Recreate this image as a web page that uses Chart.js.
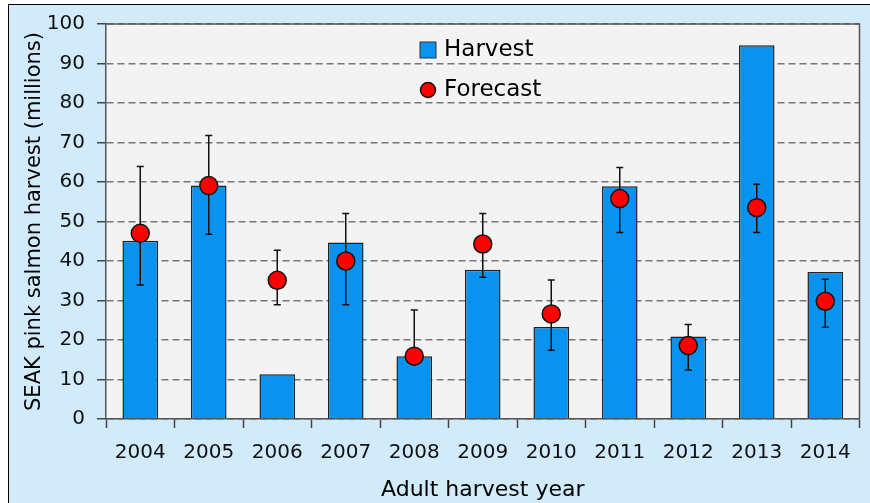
<!DOCTYPE html>
<html>
<head>
<meta charset="utf-8">
<title>SEAK pink salmon harvest</title>
<script src="https://cdn.jsdelivr.net/npm/chart.js"></script>
<style>
    html, body { margin: 0; padding: 0; background: #fff; }
    #wrap { position: relative; width: 870px; height: 503px; overflow: hidden; }
    #frame {
        position: absolute; left: 8px; top: 4px; right: -4px; bottom: -4px;
        border-top: 1.5px solid #000; border-left: 1.5px solid #000;
        background: #d2ebfb;
    }
    #myChart { position: absolute; left: 0; top: 0; }
</style>
</head>
<body>
<div id="wrap">
    <div id="frame"></div>
    <canvas id="myChart" width="870" height="503"></canvas>
</div>
<script>
// values (millions of fish)
const years = ['2004', '2005', '2006', '2007', '2008', '2009', '2010', '2011', '2012', '2013', '2014'];
const harvest = [45.1, 59.1, 11.3, 44.7, 15.9, 37.8, 23.3, 58.9, 20.9, 94.6, 37.2];
const forecast = [47.0, 59.1, 35.1, 40.0, 15.9, 44.3, 26.6, 55.8, 18.6, 53.5, 29.8];
const forecastHigh = [63.9, 71.8, 42.7, 52.0, 27.6, 52.0, 35.2, 63.7, 23.9, 59.4, 35.4];
const forecastLow = [33.9, 46.8, 28.9, 28.9, 14.5, 35.9, 17.4, 47.2, 12.4, 47.2, 23.2];
const yTicks = [0, 10, 20, 30, 40, 50, 60, 70, 80, 90, 100];

const FONT = "'Comic Sans MS', 'DejaVu Sans', sans-serif";

// grey plot background
const plotBackground = {
    id: 'plotBackground',
    beforeDraw(chart) {
        const { ctx, chartArea: a } = chart;
        ctx.save();
        ctx.fillStyle = '#f3f3f3';
        ctx.fillRect(a.left, a.top, a.right - a.left, a.bottom - a.top);
        ctx.restore();
    }
};

// whiskers on the forecast, drawn right after the bars so the dots sit on top
const errorBars = {
    id: 'errorBars',
    afterDatasetDraw(chart, args) {
        if (args.index !== 0) return;
        const { ctx, scales: { x, y } } = chart;
        ctx.save();
        ctx.strokeStyle = '#111';
        ctx.lineWidth = 1.5;
        years.forEach((yr, i) => {
            const px = x.getPixelForValue(i);
            const top = y.getPixelForValue(forecastHigh[i]);
            const bot = y.getPixelForValue(forecastLow[i]);
            ctx.beginPath();
            ctx.moveTo(px, top);
            ctx.lineTo(px, bot);
            ctx.moveTo(px - 3.5, top);
            ctx.lineTo(px + 3.5, top);
            ctx.moveTo(px - 3.5, bot);
            ctx.lineTo(px + 3.5, bot);
            ctx.stroke();
        });
        ctx.restore();
    },
    afterDatasetsDraw(chart) {
        // solid frame round the plot
        const { ctx, chartArea: a } = chart;
        ctx.save();
        ctx.strokeStyle = '#555';
        ctx.lineWidth = 1.5;
        ctx.beginPath();
        ctx.moveTo(a.left, a.top);
        ctx.lineTo(a.right, a.top);
        ctx.lineTo(a.right, a.bottom);
        ctx.stroke();

        // legend inside the plot
        const ds = chart.data.datasets;
        ctx.font = '23px ' + FONT;
        ctx.textBaseline = 'middle';
        ctx.textAlign = 'left';
        ctx.fillStyle = ds[0].backgroundColor;
        ctx.fillRect(420, 42, 16, 16);
        ctx.lineWidth = 1;
        ctx.strokeStyle = '#333';
        ctx.strokeRect(420, 42, 16, 16);
        ctx.fillStyle = '#000';
        ctx.fillText(ds[0].label, 444, 50);

        ctx.beginPath();
        ctx.arc(428, 90, 7.5, 0, Math.PI * 2);
        ctx.fillStyle = ds[1].pointBackgroundColor;
        ctx.fill();
        ctx.lineWidth = 1.5;
        ctx.strokeStyle = '#111';
        ctx.stroke();
        ctx.fillStyle = '#000';
        ctx.fillText(ds[1].label, 444, 90);
        ctx.restore();
    }
};

const ctx = document.getElementById('myChart').getContext('2d');
new Chart(ctx, {
    data: {
        labels: years,
        datasets: [{
            type: 'bar',
            label: 'Harvest',
            data: harvest,
            backgroundColor: '#0993ef',
            borderColor: '#222',
            borderWidth: 1.5,
            barPercentage: 0.52,
            categoryPercentage: 1,
            order: 2
        }, {
            type: 'line',
            label: 'Forecast',
            data: forecast,
            showLine: false,
            pointRadius: 9,
            pointBackgroundColor: '#ff0000',
            pointBorderColor: '#111',
            pointBorderWidth: 1.5,
            order: 1
        }]
    },
    options: {
        responsive: false,
        animation: false,
        devicePixelRatio: 1,
        layout: { padding: { left: 8, right: 7, top: 22, bottom: 0 } },
        plugins: {
            legend: { display: false },
            tooltip: { enabled: false }
        },
        scales: {
            x: {
                type: 'category',
                offset: true,
                afterFit(scale) { scale.height = 84; },
                grid: {
                    offset: true,
                    drawOnChartArea: false,
                    drawTicks: true,
                    tickLength: 9,
                    tickColor: '#444',
                    tickWidth: 1.5
                },
                border: { color: '#555', width: 1.5 },
                ticks: {
                    color: '#111',
                    padding: 13,
                    maxRotation: 0,
                    font: { family: FONT, size: 20 }
                },
                title: {
                    display: true,
                    text: 'Adult harvest year',
                    color: '#000',
                    padding: { top: 0, bottom: 0 },
                    font: { family: FONT, size: 22 }
                }
            },
            y: {
                type: 'linear',
                min: 0,
                max: 100,
                afterFit(scale) { scale.width = 98; },
                afterBuildTicks(scale) { scale.ticks = yTicks.map(v => ({ value: v })); },
                grid: {
                    color: '#777',
                    lineWidth: 1.5,
                    tickLength: 9,
                    tickColor: '#444',
                    tickWidth: 1.5,
                    tickBorderDash: []
                },
                border: { color: '#555', width: 1.5, dash: [7, 4] },
                ticks: {
                    color: '#111',
                    padding: 12,
                    font: { family: FONT, size: 20 }
                },
                title: {
                    display: true,
                    text: 'SEAK pink salmon harvest (millions)',
                    color: '#000',
                    padding: { top: 14, bottom: 0 },
                    font: { family: FONT, size: 21 }
                }
            }
        }
    },
    plugins: [plotBackground, errorBars]
});
</script>
</body>
</html>
